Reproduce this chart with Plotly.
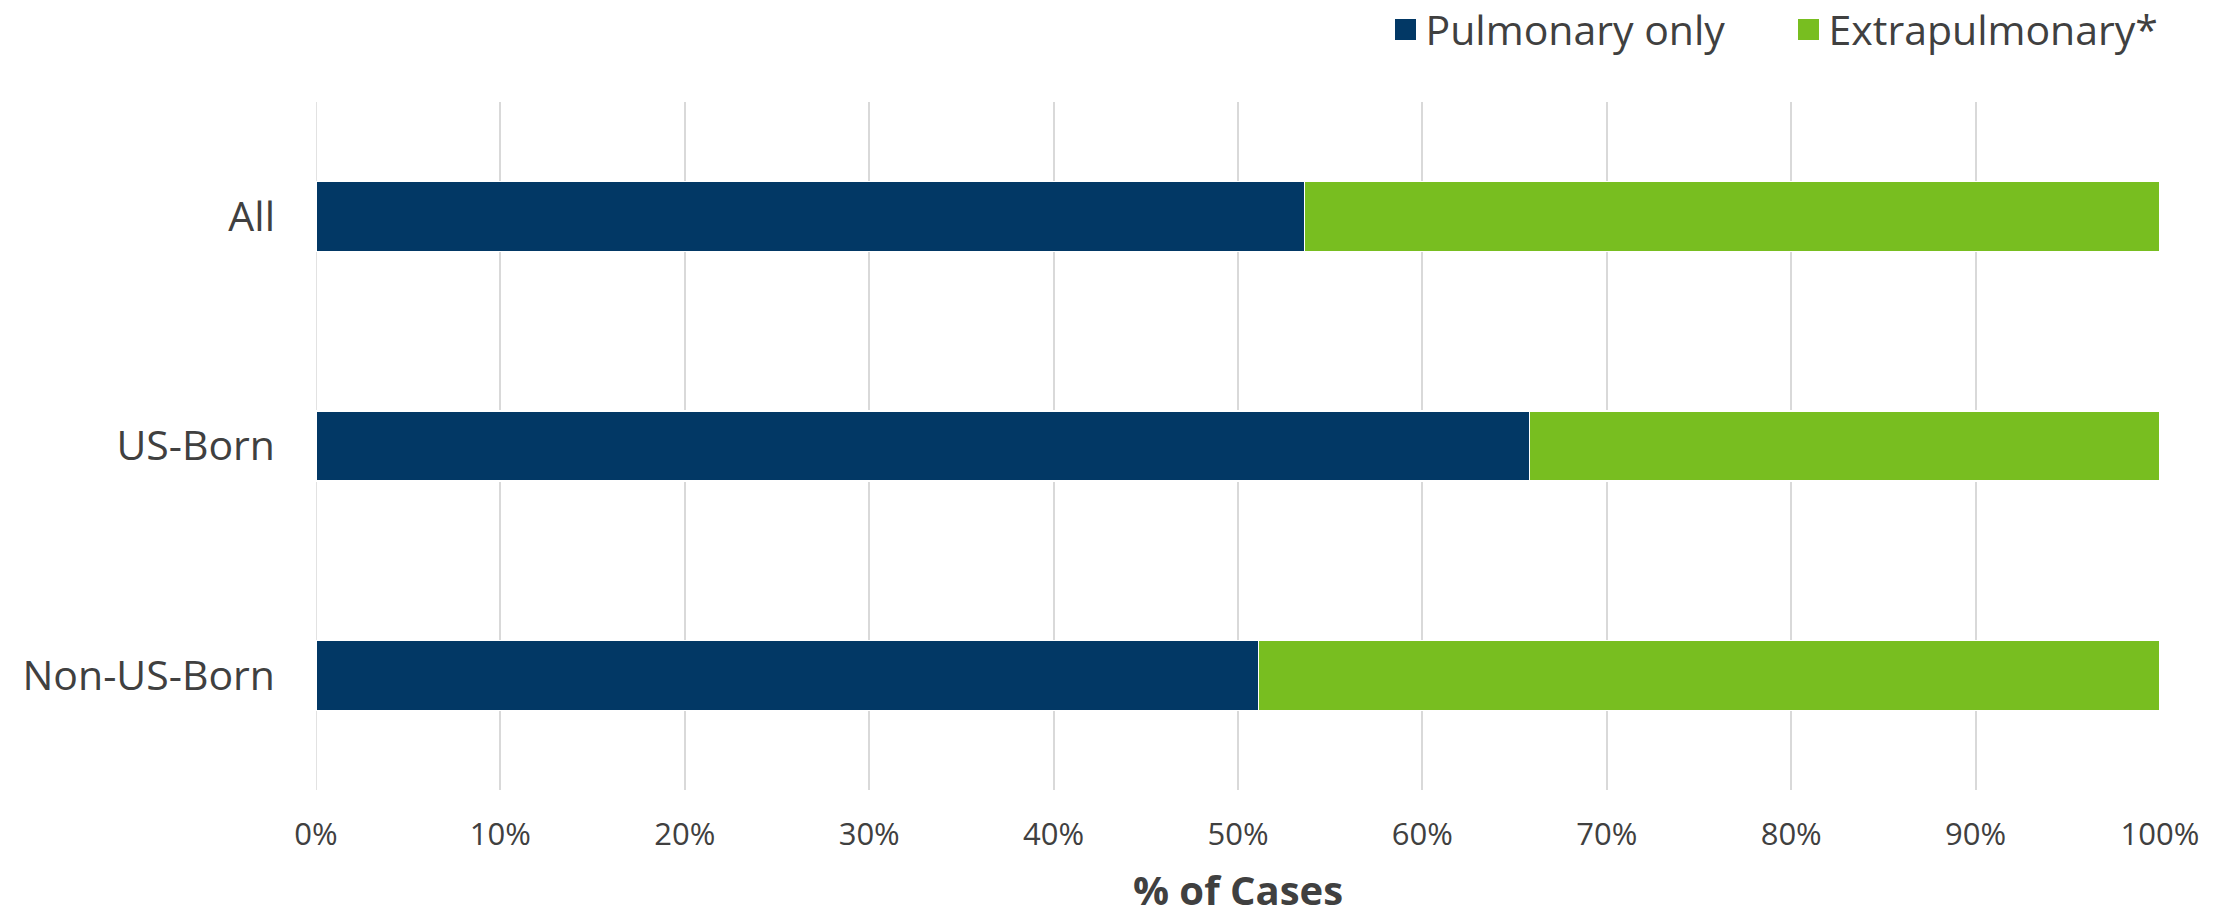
import plotly.graph_objects as go

C_NAVY="#023865";C_GREEN="#78BE20";C_TEXT="#404040";C_GRID="#D9D9D9"

categories=["All","US-Born","Non-US-Born"]
pulmonary_only=[0.536,0.658,0.511]
extrapulmonary=[0.464,0.342,0.489]
x_ticks=[0,0.1,0.2,0.3,0.4,0.5,0.6,0.7,0.8,0.9,1.0]
x_tick_labels=["0%","10%","20%","30%","40%","50%","60%","70%","80%","90%","100%"]
series=[("Pulmonary only",pulmonary_only,C_NAVY),("Extrapulmonary*",extrapulmonary,C_GREEN)]

fig=go.Figure()
for name,vals,col in series:
    fig.add_trace(go.Bar(name=name,y=categories,x=vals,orientation="h",showlegend=False,
        marker=dict(color=col,line=dict(color="white",width=1.5))))
# legend entries: square swatches bigger than the default bar symbol
for name,vals,col in series:
    fig.add_trace(go.Scatter(name=name,x=[None],y=[None],mode="markers",
        marker=dict(symbol="square",size=16,color=col,line=dict(color=col,width=5))))

fig.update_layout(
    barmode="stack",bargap=0.695,
    width=2234,height=917,
    paper_bgcolor="white",plot_bgcolor="white",
    font=dict(family="Open Sans",color=C_TEXT,size=30),
    margin=dict(l=316,r=74,t=102,b=127,autoexpand=False),
    legend=dict(orientation="h",x=0.580,xanchor="left",y=1.105,yanchor="middle",
        font=dict(size=41,color=C_TEXT),traceorder="normal",itemwidth=30,
        entrywidth=358,itemsizing="trace",bgcolor="rgba(0,0,0,0)"),
    xaxis=dict(range=[0,1],tickvals=x_ticks,ticktext=x_tick_labels,
        showgrid=True,gridcolor=C_GRID,gridwidth=1.5,zeroline=False,showline=False,
        tickfont=dict(size=31,color=C_TEXT),ticklabelstandoff=23,automargin=False,
        title=dict(text="<b>% of Cases</b>",font=dict(size=40,color=C_TEXT),standoff=44)),
    yaxis=dict(autorange="reversed",showgrid=False,showline=False,zeroline=False,
        tickfont=dict(size=41,color=C_TEXT),ticklabelstandoff=40,automargin=False),
)
fig.add_shape(type="line",xref="x",yref="paper",x0=0,x1=0,y0=0,y1=1,
    line=dict(color=C_GRID,width=1.5),layer="below")

fig.write_html("out.html",config={"displayModeBar":False},
    post_script="document.body.style.margin='0';")
